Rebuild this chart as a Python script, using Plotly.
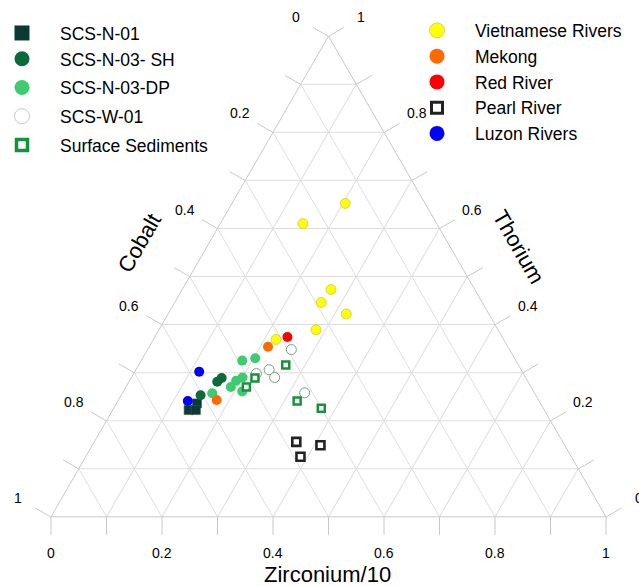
import plotly.graph_objects as go

# Compositions as fractions: Thorium (apex), Cobalt (lower left), Zirconium/10 (lower right)
n01_th = [0.236, 0.222, 0.222]
n01_co = [0.619, 0.641, 0.628]
n01_zr = [0.145, 0.137, 0.150]

sh_th = [0.289, 0.281, 0.253]
sh_co = [0.548, 0.560, 0.604]
sh_zr = [0.163, 0.159, 0.143]

dp_th = [0.325, 0.330, 0.290, 0.283, 0.270, 0.261, 0.257]
dp_co = [0.493, 0.467, 0.510, 0.525, 0.541, 0.525, 0.581]
dp_zr = [0.182, 0.203, 0.200, 0.192, 0.189, 0.214, 0.162]

w01_th = [0.348, 0.306, 0.290, 0.298, 0.258]
w01_co = [0.393, 0.454, 0.452, 0.481, 0.414]
w01_zr = [0.259, 0.240, 0.258, 0.221, 0.328]

surf_th = [0.316, 0.289, 0.270, 0.241, 0.226]
surf_co = [0.419, 0.488, 0.513, 0.436, 0.400]
surf_zr = [0.265, 0.223, 0.217, 0.323, 0.374]

viet_th = [0.652, 0.610, 0.473, 0.446, 0.422, 0.389, 0.369]
viet_co = [0.144, 0.241, 0.259, 0.290, 0.257, 0.328, 0.410]
viet_zr = [0.204, 0.149, 0.268, 0.264, 0.321, 0.283, 0.221]

mekong_th = [0.354, 0.243]
mekong_co = [0.432, 0.580]
mekong_zr = [0.214, 0.177]

red_th = [0.374]
red_co = [0.387]
red_zr = [0.239]

pearl_th = [0.156, 0.149, 0.125]
pearl_co = [0.480, 0.440, 0.488]
pearl_zr = [0.364, 0.411, 0.387]

luzon_th = [0.302, 0.241]
luzon_co = [0.582, 0.633]
luzon_zr = [0.116, 0.126]

# Grid and ticks every 0.1, labels every 0.2
tick_vals = [i / 10 for i in range(11)]
label_vals = [0, 0.2, 0.4, 0.6, 0.8, 1]
label_text = ["0", "0.2", "0.4", "0.6", "0.8", "1"]

FONT = "Arial, Liberation Sans, sans-serif"
GRID = "#dedede"
EDGE = "#c8c8c8"

# Plot-area geometry (px): the ternary fills the area between the margins
ML, MR, MT, MB = 51, 33, 36, 69
FIG_W, FIG_H = 639, 586
PW, PH = FIG_W - ML - MR, FIG_H - MT - MB
SIDE = PW
HGT = SIDE * 3 ** 0.5 / 2
X_LL, Y_BASE = ML, FIG_H - MB


def paper(x, y):
    return (x - ML) / PW, (Y_BASE - y) / PH


def tern_px(th, zr):
    return X_LL + SIDE * (zr + th / 2), Y_BASE - HGT * th


# outward unit normals of the three edges
N_LEFT = (-0.866, -0.5)
N_RIGHT = (0.866, -0.5)
N_BOTTOM = (0.0, 1.0)


def edge_point(edge, v):
    if edge == "left":      # Cobalt = v along the left edge
        return tern_px(1 - v, 0)
    if edge == "bottom":    # Zirconium/10 = v along the base
        return tern_px(0, v)
    return tern_px(v, 1 - v)  # Thorium = v along the right edge


series = [
    ("SCS-N-01", n01_th, n01_co, n01_zr,
     dict(symbol="square", size=9, color="#0b3a34", line=dict(width=0.6, color="#35524d")),
     dict(symbol="square", size=15, color="#0b3a34", line=dict(width=0)), "legend", "g1"),
    ("SCS-N-03- SH", sh_th, sh_co, sh_zr,
     dict(symbol="circle", size=10, color="#0d6b3a", line=dict(width=0)),
     dict(symbol="circle", size=15, color="#0d6b3a", line=dict(width=0)), "legend", "g1"),
    ("SCS-N-03-DP", dp_th, dp_co, dp_zr,
     dict(symbol="circle", size=10, color="#3fcb6f", line=dict(width=0)),
     dict(symbol="circle", size=15, color="#3fcb6f", line=dict(width=0)), "legend", "g2"),
    ("SCS-W-01", w01_th, w01_co, w01_zr,
     dict(symbol="circle", size=10, color="white", line=dict(width=1, color="#6f9f7f")),
     dict(symbol="circle", size=15, color="white", line=dict(width=1, color="#c8c8c8")), "legend", "g3"),
    ("Surface Sediments", surf_th, surf_co, surf_zr,
     dict(symbol="square", size=7, color="white", line=dict(width=2.5, color="#16923a")),
     dict(symbol="square", size=11, color="white", line=dict(width=3.5, color="#16923a")), "legend", "g4"),
    ("Vietnamese Rivers", viet_th, viet_co, viet_zr,
     dict(symbol="circle", size=10, color="#ffff00", line=dict(width=0.7, color="#c9c23a")),
     dict(symbol="circle", size=15, color="#ffff00", line=dict(width=0.7, color="#c9c23a")), "legend2", None),
    ("Mekong", mekong_th, mekong_co, mekong_zr,
     dict(symbol="circle", size=10, color="#ff6a00", line=dict(width=0)),
     dict(symbol="circle", size=15, color="#ff6a00", line=dict(width=0)), "legend2", None),
    ("Red River", red_th, red_co, red_zr,
     dict(symbol="circle", size=10, color="#ff0000", line=dict(width=0)),
     dict(symbol="circle", size=15, color="#ff0000", line=dict(width=0)), "legend2", None),
    ("Pearl River", pearl_th, pearl_co, pearl_zr,
     dict(symbol="square", size=8, color="white", line=dict(width=2.6, color="#222222")),
     dict(symbol="square", size=11, color="white", line=dict(width=3, color="#222222")), "legend2", None),
    ("Luzon Rivers", luzon_th, luzon_co, luzon_zr,
     dict(symbol="circle", size=10, color="#0000ff", line=dict(width=0)),
     dict(symbol="circle", size=15, color="#0000ff", line=dict(width=0)), "legend2", None),
]

fig = go.Figure()
for name, th, co, zr, mk, lmk, leg, grp in series:
    fig.add_trace(go.Scatterternary(
        a=th, b=co, c=zr, mode="markers", name=name, marker=mk,
        showlegend=False, hoverinfo="name+a+b+c"))
    # legend entry with the larger key symbol
    fig.add_trace(go.Scatterternary(
        a=[None], b=[None], c=[None], mode="markers", name=name, marker=lmk,
        showlegend=True, legend=leg, legendgroup=grp, hoverinfo="skip"))

axis_common = dict(
    tickmode="array", tickvals=tick_vals, ticks="", showticklabels=False,
    showgrid=True, gridcolor=GRID, gridwidth=1,
    showline=True, linecolor=EDGE, linewidth=1,
    title=dict(text=""), min=0,
)

# Tick marks (normal to each edge) and tick labels placed outside them
TICK_LEN = 18
LABEL_OFF = {"left": 38, "bottom": 36, "right": 38}
normals = {"left": N_LEFT, "bottom": N_BOTTOM, "right": N_RIGHT}
shapes, annotations = [], []
for edge, (nx, ny) in normals.items():
    for v in tick_vals:
        x, y = edge_point(edge, v)
        x0p, y0p = paper(x, y)
        x1p, y1p = paper(x + nx * TICK_LEN, y + ny * TICK_LEN)
        shapes.append(dict(type="line", xref="paper", yref="paper",
                           x0=x0p, y0=y0p, x1=x1p, y1=y1p,
                           line=dict(color=EDGE, width=1), layer="below"))
    for v, t in zip(label_vals, label_text):
        x, y = edge_point(edge, v)
        d = LABEL_OFF[edge]
        xp, yp = paper(x + nx * d, y + ny * d)
        annotations.append(dict(text=t, x=xp, y=yp, xref="paper", yref="paper",
                                xanchor="center", yanchor="middle", showarrow=False,
                                font=dict(family=FONT, size=14, color="black")))

title_font = dict(family=FONT, size=22, color="black")
for text, (tx, ty), ang in [("Zirconium/10", (327, 574), 0),
                            ("Cobalt", (140, 243), -60),
                            ("Thorium", (518, 247), 60)]:
    xp, yp = paper(tx, ty)
    annotations.append(dict(text=text, x=xp, y=yp, xref="paper", yref="paper",
                            xanchor="center", yanchor="middle", textangle=ang,
                            showarrow=False, font=title_font))

fig.update_layout(
    width=FIG_W, height=FIG_H,
    margin=dict(l=ML, r=MR, t=MT, b=MB, autoexpand=False),
    paper_bgcolor="white",
    font=dict(family=FONT, color="black"),
    ternary=dict(
        sum=1, bgcolor="white",
        domain=dict(x=[0, 1], y=[0, 1]),
        aaxis=axis_common, baxis=axis_common, caxis=axis_common,
    ),
    legend=dict(
        xref="paper", yref="paper", x=(-16 - ML) / PW, y=(Y_BASE - 15.1) / PH,
        xanchor="left", yanchor="top", itemwidth=66, tracegroupgap=3,
        traceorder="grouped", bgcolor="rgba(0,0,0,0)", borderwidth=0,
        font=dict(family=FONT, size=17.5, color="black"),
    ),
    legend2=dict(
        xref="paper", yref="paper", x=(399 - ML) / PW, y=(Y_BASE - 12.5) / PH,
        xanchor="left", yanchor="top", itemwidth=66,
        bgcolor="rgba(0,0,0,0)", borderwidth=0,
        font=dict(family=FONT, size=17.5, color="black"),
    ),
    shapes=shapes,
    annotations=annotations,
)

fig.write_html("out.html")
